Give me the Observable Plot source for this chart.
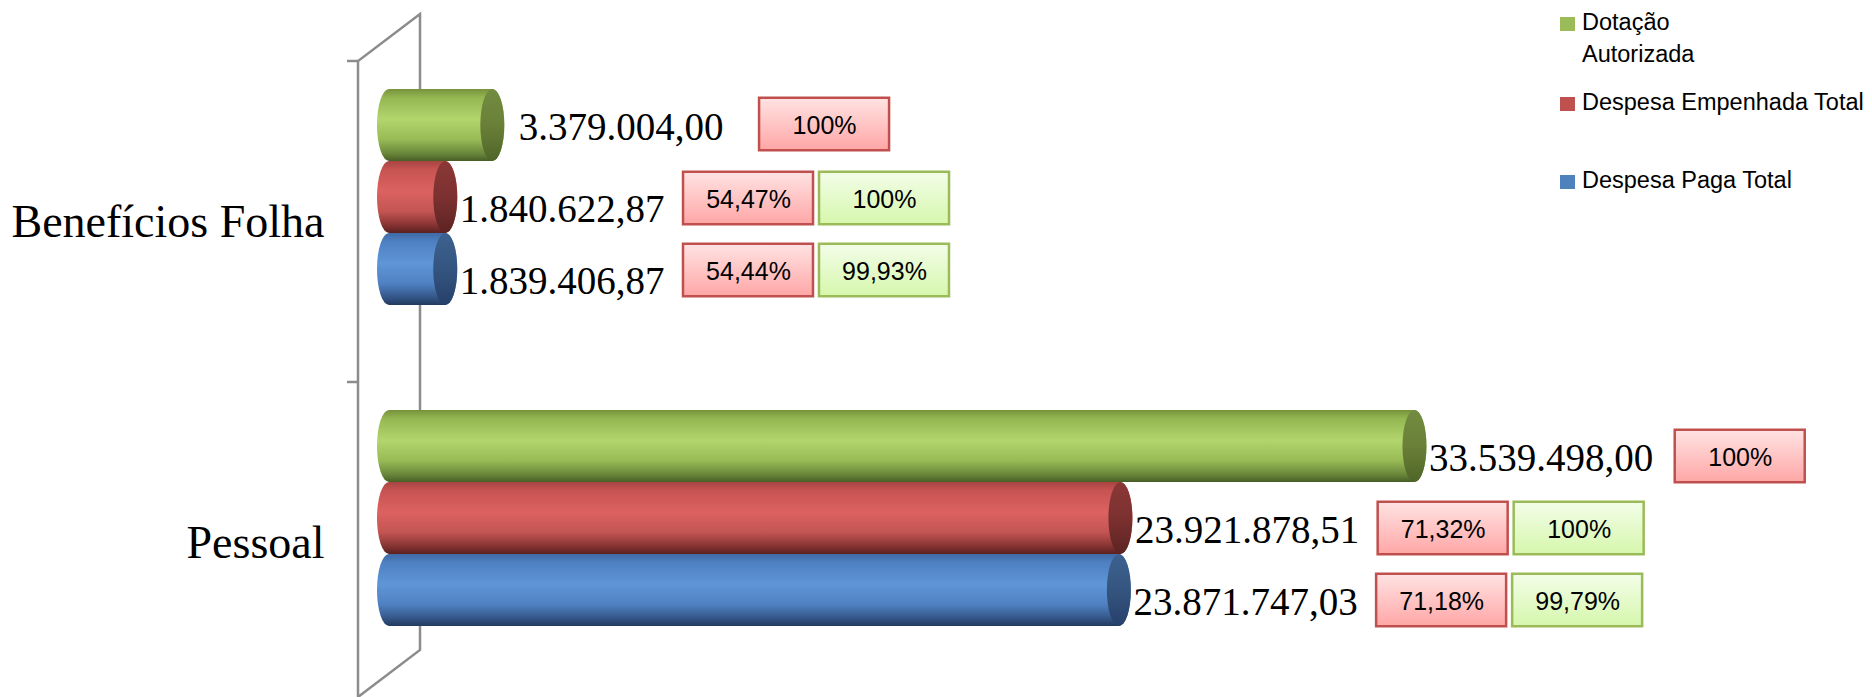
<!DOCTYPE html>
<html>
<head>
<meta charset="utf-8">
<script src="https://cdn.jsdelivr.net/npm/d3@7"></script>
<script src="https://cdn.jsdelivr.net/npm/@observablehq/plot@0.6"></script>
<style>
  body { margin: 0; background: #fff; }
  #wrap { position: relative; width: 1872px; height: 697px; }
</style>
</head>
<body>
<div id="wrap"></div>
<script>
// ---- data ----
const categories = ["Benefícios Folha", "Pessoal"];
const series = ["Dotação Autorizada", "Despesa Empenhada Total", "Despesa Paga Total"];
const valuesBeneficios = [3379004.00, 1840622.87, 1839406.87];
const valuesPessoal = [33539498.00, 23921878.51, 23871747.03];
const pctOfDotacaoBeneficios = ["100%", "54,47%", "54,44%"];
const pctOfDotacaoPessoal = ["100%", "71,32%", "71,18%"];
const pctOfEmpenhadaBeneficios = [null, "100%", "99,93%"];
const pctOfEmpenhadaPessoal = [null, "100%", "99,79%"];
const legendColors = ["#9bbb59", "#c0504d", "#4f81bd"];

// ---- table built from the arrays ----
const valuesByCat = [valuesBeneficios, valuesPessoal];
const pctDByCat = [pctOfDotacaoBeneficios, pctOfDotacaoPessoal];
const pctEByCat = [pctOfEmpenhadaBeneficios, pctOfEmpenhadaPessoal];
const rows = categories.flatMap((c, ci) => series.map((s, si) => ({
  category: c, ci, series: s, si,
  value: valuesByCat[ci][si], pctD: pctDByCat[ci][si], pctE: pctEByCat[ci][si]
})));

const fmt = d3.formatLocale({decimal: ",", thousands: ".", grouping: [3], currency: ["", ""]}).format(",.2f");

// ---- layout ----
const CAP = 12;
const SERIF = "'Liberation Serif', 'Times New Roman', serif";
const SANS = "'Liberation Sans', Arial, sans-serif";
const LABEL_SIZE = 39;
const BOX_W = 130, BOX_H = 53, BAND = 72.5;
const ctx = document.createElement("canvas").getContext("2d");
ctx.font = `${LABEL_SIZE}px ${SERIF}`;

const marks = [];
// cylinders
series.forEach((s, si) => {
  const data = rows.filter(r => r.si === si);
  marks.push(Plot.barX(data, {
    x1: () => 0, x2: "value", y: "series", fy: "category",
    fill: `url(#body${si})`, insetLeft: -CAP, insetRight: -CAP, rx: CAP, ry: 40
  }));
  marks.push(Plot.barX(data, {
    x1: "value", x2: "value", y: "series", fy: "category",
    fill: `url(#cap${si})`, insetLeft: -CAP, insetRight: -CAP, rx: CAP, ry: 40
  }));
});

// value labels and percentage boxes
rows.forEach(r => {
  const special = r.ci === 0 && r.si === 0;
  const labelDx = CAP + 2 + (special ? 12 : 0);
  const labelDy = special ? 2 : 12;
  const label = fmt(r.value);
  const w = ctx.measureText(label).width;
  const gap = special ? 36 : (r.si === 0 ? 22 : 19);
  const boxDx = labelDx + w + gap;
  const boxDy = r.ci === 0 ? (special ? -1 : 1) : 10;
  const inset = (BAND - BOX_H) / 2;
  marks.push(Plot.text([r], {
    x: "value", y: "series", fy: "category", text: () => label,
    dx: labelDx, dy: labelDy, textAnchor: "start", fontSize: LABEL_SIZE, fontFamily: SERIF, fill: "#000"
  }));
  const boxes = [[r.pctD, "R", 0], [r.pctE, "G", 136]];
  boxes.forEach(([txt, kind, off]) => {
    if (!txt) return;
    marks.push(Plot.barX([r], {
      x1: "value", x2: "value", y: "series", fy: "category",
      dx: boxDx + off, dy: boxDy, insetLeft: 0, insetRight: -BOX_W, insetTop: inset, insetBottom: inset,
      fill: `url(#box${kind})`, stroke: kind === "R" ? "#c0504d" : "#9bbb59", strokeWidth: 2.5,
      ariaLabel: "pct-box"
    }));
    marks.push(Plot.text([r], {
      x: "value", y: "series", fy: "category", text: () => txt,
      dx: boxDx + off + BOX_W / 2, dy: boxDy + 1, textAnchor: "middle",
      fontSize: 25, fontFamily: SANS, fill: "#000"
    }));
  });
});

// category labels
marks.push(Plot.text(categories, {
  fy: d => d, text: d => d, frameAnchor: "left", textAnchor: "end", dx: -34,
  fontSize: 46, fontFamily: SERIF, fill: "#000"
}));

const plot = Plot.plot({
  width: 1872, height: 697,
  marginLeft: 358, marginRight: 0, marginTop: 61, marginBottom: 0,
  style: {background: "#fff", overflow: "visible"},
  x: {domain: [0, 40e6], range: [389, 1612], axis: null},
  y: {domain: series, paddingInner: 0, paddingOuter: 0.714, align: 0.27, axis: null},
  fy: {domain: categories, range: [61, 703], padding: 0, axis: null},
  marks
});
document.getElementById("wrap").appendChild(plot);

// ---- decorations: gradients, 3D wall, legend ----
const svg = d3.select(plot.tagName.toLowerCase() === "svg" ? plot : plot.querySelector("svg"));
const stops = (arr) => arr.map(([o, c]) => `<stop offset="${o}" stop-color="${c}"/>`).join("");
const grad = (id, arr) => `<linearGradient id="${id}" x1="0" y1="0" x2="0" y2="1">${stops(arr)}</linearGradient>`;
svg.insert("defs", ":first-child").html(
  grad("body0", [[0, "#76923c"], [0.12, "#94b752"], [0.42, "#b2d56c"], [0.7, "#98bb56"], [0.9, "#69853a"], [1, "#475e26"]]) +
  grad("body1", [[0, "#a84442"], [0.12, "#c75452"], [0.42, "#dc6260"], [0.7, "#c25553"], [0.88, "#8a3534"], [1, "#5a2120"]]) +
  grad("body2", [[0, "#3f6aa5"], [0.12, "#4e80c2"], [0.42, "#5e96d8"], [0.7, "#4f81c2"], [0.88, "#36598c"], [1, "#223a5e"]]) +
  grad("cap0", [[0, "#718c40"], [0.5, "#6a8038"], [1, "#4f6528"]]) +
  grad("cap1", [[0, "#8a3836"], [0.5, "#7c3130"], [1, "#5c2322"]]) +
  grad("cap2", [[0, "#3d6190"], [0.5, "#34557f"], [1, "#26406a"]]) +
  grad("boxR", [[0, "#ffe3e3"], [1, "#ffa6a6"]]) +
  grad("boxG", [[0, "#f3fde9"], [1, "#d6f7ac"]]) +
  `<filter id="shadow" x="-10%" y="-20%" width="130%" height="160%"><feDropShadow dx="2" dy="3" stdDeviation="2" flood-color="#000" flood-opacity="0.3"/></filter>`
);
svg.selectAll('g[aria-label="pct-box"]').attr("filter", "url(#shadow)");

const xs = plot.scale("x"), fys = plot.scale("fy");
const X0 = xs.apply(0);
const yTop = fys.apply(categories[0]);
const yMid = fys.apply(categories[1]);
const H = 697;
const front = X0 - 31, back = X0 + 31, depth = 47;
const wall = svg.insert("g", "defs + *").attr("stroke", "#8c8c8c").attr("stroke-width", 2.5).attr("fill", "none");
wall.append("path").attr("d", `M${front},${H}V${yTop}L${back},${yTop - depth}V${H - depth}L${front},${H}`);
[yTop, yMid].forEach(y => wall.append("line").attr("x1", front - 11).attr("x2", front).attr("y1", y).attr("y2", y));

const legend = svg.append("g").attr("font-family", SANS).attr("font-size", 23.5).attr("fill", "#000").attr("text-anchor", "start");
const legendItems = [
  {lines: ["Dotação", "Autorizada"], y: 30},
  {lines: ["Despesa Empenhada Total"], y: 110},
  {lines: ["Despesa Paga Total"], y: 188}
];
legendItems.forEach((it, i) => {
  legend.append("rect").attr("x", 1560).attr("y", it.y - 13).attr("width", 15).attr("height", 14).attr("fill", legendColors[i]);
  it.lines.forEach((t, k) => legend.append("text").attr("x", 1582).attr("y", it.y + k * 32).attr("text-anchor", "start").text(t));
});
</script>
</body>
</html>
